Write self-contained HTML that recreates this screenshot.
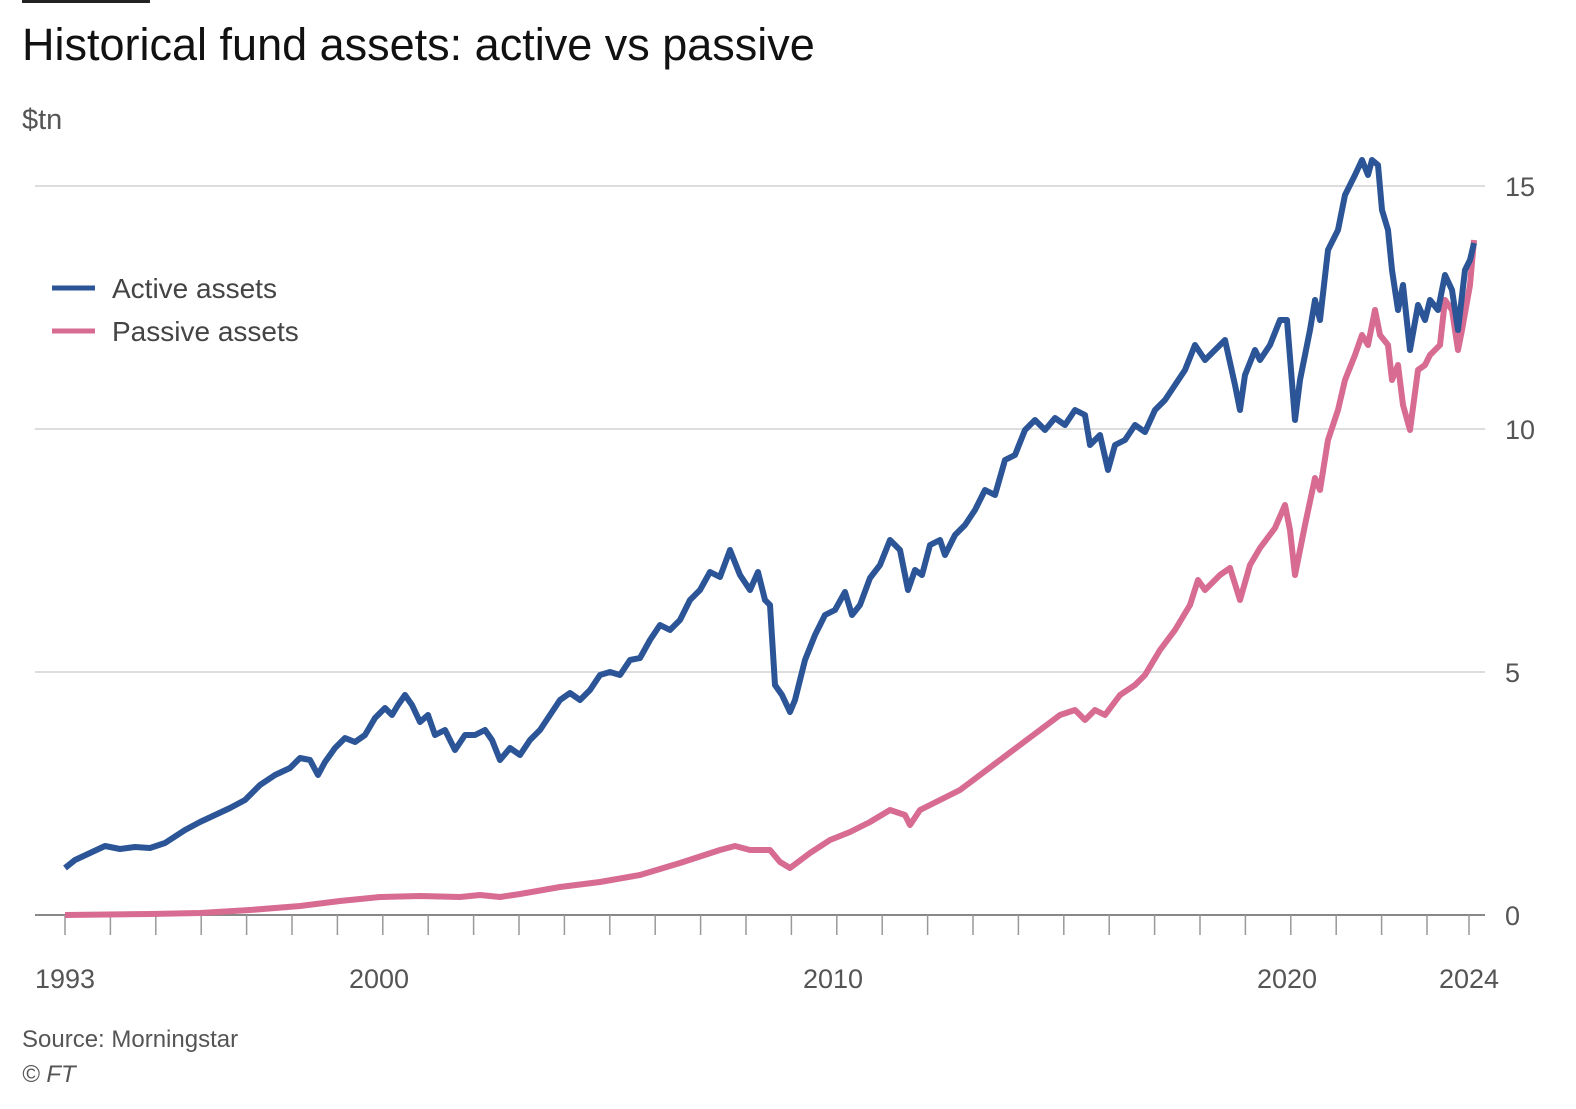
<!DOCTYPE html>
<html><head><meta charset="utf-8"><style>
body{margin:0;background:#fff;width:1576px;height:1104px;overflow:hidden;font-family:"Liberation Sans",sans-serif}
</style></head><body>
<svg width="1576" height="1104" xmlns="http://www.w3.org/2000/svg" font-family="Liberation Sans, sans-serif">
<rect x="22" y="0" width="128" height="3" fill="#222"/>
<text x="22" y="60" font-size="45" fill="#111">Historical fund assets: active vs passive</text>
<text x="22" y="129" font-size="29" fill="#555">$tn</text>
<g stroke="#ddd" stroke-width="2">
<line x1="35" y1="186" x2="1485" y2="186"/><line x1="35" y1="429" x2="1485" y2="429"/><line x1="35" y1="672" x2="1485" y2="672"/>
</g>
<line x1="35" y1="915" x2="1485" y2="915" stroke="#888" stroke-width="2"/>
<path stroke="#999" stroke-width="1.5" d="M65 915v20M110.4 915v20M155.8 915v20M201.2 915v20M246.6 915v20M292 915v20M337.4 915v20M382.8 915v20M428.2 915v20M473.6 915v20M519 915v20M564.4 915v20M609.8 915v20M655.2 915v20M700.6 915v20M746 915v20M791.4 915v20M836.8 915v20M882.2 915v20M927.6 915v20M973 915v20M1018.4 915v20M1063.8 915v20M1109.2 915v20M1154.6 915v20M1200 915v20M1245.4 915v20M1290.8 915v20M1336.2 915v20M1381.6 915v20M1427 915v20M1469 915v20"/>
<g font-size="27" fill="#555">
<text x="1505" y="196">15</text><text x="1505" y="439">10</text><text x="1505" y="682">5</text><text x="1505" y="925">0</text>
<text x="65" y="988" text-anchor="middle">1993</text><text x="379" y="988" text-anchor="middle">2000</text>
<text x="833" y="988" text-anchor="middle">2010</text><text x="1287" y="988" text-anchor="middle">2020</text>
<text x="1469" y="988" text-anchor="middle">2024</text>
</g>
<polyline fill="none" stroke="#d76b91" stroke-width="6" stroke-linejoin="round" points="65,915 150,914 200,913 250,910 300,906 340,901 380,897 420,896 460,897 480,895 500,897 520,894 560,887 600,882 640,875 680,863 720,850 735,846 750,850 770,850 780,862 790,868 810,853 830,840 850,832 870,822 890,810 905,815 910,825 920,810 940,800 960,790 980,775 1000,760 1020,745 1040,730 1060,715 1075,710 1085,720 1095,710 1105,715 1120,695 1135,685 1145,675 1160,650 1175,630 1190,605 1198,580 1205,590 1220,575 1230,568 1240,600 1250,565 1260,548 1275,528 1285,505 1290,530 1295,575 1305,525 1315,478 1320,490 1328,440 1338,410 1345,380 1355,355 1362,335 1368,345 1375,310 1380,335 1388,345 1392,380 1398,365 1403,405 1410,430 1418,370 1425,365 1430,355 1440,345 1445,300 1452,310 1458,350 1462,330 1470,285 1474,240"/>
<polyline fill="none" stroke="#2b5597" stroke-width="6" stroke-linejoin="round" points="65,868 75,860 90,853 105,846 120,849 135,847 150,848 165,843 185,830 200,822 215,815 230,808 245,800 260,785 275,775 290,768 300,758 310,760 318,775 325,762 335,748 345,738 355,742 365,735 375,718 385,708 392,715 398,705 405,695 412,705 420,722 428,715 435,735 445,730 455,750 465,735 475,735 485,730 492,740 500,760 510,748 520,755 530,740 540,730 550,715 560,700 570,693 580,700 590,690 600,675 610,672 620,675 630,660 640,658 650,640 660,625 670,630 680,620 690,600 700,590 710,572 720,577 730,550 740,575 750,590 758,572 765,600 770,605 775,685 782,695 790,712 795,700 805,660 815,635 825,615 835,610 845,592 852,615 860,605 870,578 880,565 890,540 900,550 908,590 915,570 922,575 930,545 940,540 945,555 955,535 965,525 975,510 985,490 995,495 1005,460 1015,455 1025,430 1035,420 1045,430 1055,418 1065,425 1075,410 1085,415 1090,445 1100,435 1108,470 1115,445 1125,440 1135,425 1145,432 1155,410 1165,400 1175,385 1185,370 1195,345 1205,360 1215,350 1225,340 1235,385 1240,410 1245,375 1255,350 1260,360 1270,345 1280,320 1287,320 1295,420 1300,380 1310,330 1315,300 1320,320 1328,250 1338,230 1345,195 1355,175 1362,160 1368,175 1372,160 1378,165 1382,210 1388,230 1392,270 1398,310 1403,285 1410,350 1418,305 1425,320 1430,300 1438,310 1445,275 1452,290 1458,330 1465,270 1470,260 1474,243"/>
<line x1="52" y1="288" x2="95" y2="288" stroke="#2b5597" stroke-width="5"/>
<line x1="52" y1="331" x2="95" y2="331" stroke="#d76b91" stroke-width="5"/>
<g font-size="28" fill="#444"><text x="112" y="298">Active assets</text><text x="112" y="341">Passive assets</text></g>
<text x="22" y="1047" font-size="24" fill="#555">Source: Morningstar</text>
<text x="22" y="1082" font-size="24" fill="#555" font-style="italic">© FT</text>
</svg>
</body></html>
